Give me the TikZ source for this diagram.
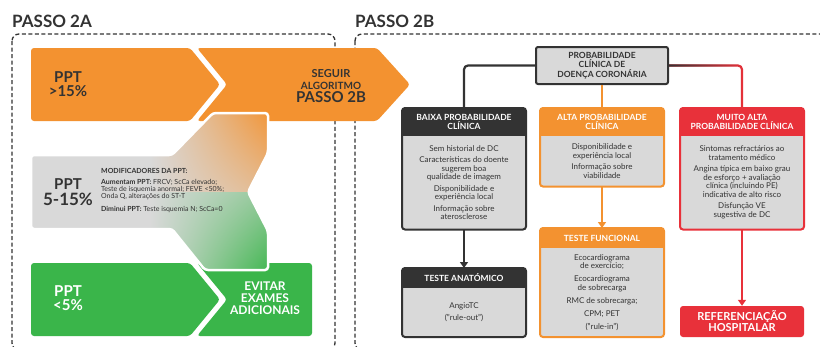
\documentclass[tikz,border=0pt]{standalone}
\usepackage{fontspec}
\setmainfont{Lato}
\usetikzlibrary{arrows.meta,fadings,shadings,positioning}
\definecolor{ink}{HTML}{333333}
\definecolor{pale}{HTML}{D9D9D9}
\definecolor{amber}{HTML}{F39230}
\definecolor{leaf}{HTML}{3AB54A}
\definecolor{alert}{HTML}{E8313A}
\newcommand{\fs}[2]{\fontsize{#1}{#2}\selectfont}
\newcommand{\midshape}{(31,155) -- (172,155) -- (213,113) -- (268,113) -- (268,153) -- (248,192) -- (268,231) -- (268,270) -- (205,270) -- (172,229) -- (31,229) -- cycle}

\begin{document}
\begin{tikzpicture}[x=1pt,y=-1pt,
	headbox/.style={minimum width=124pt, minimum height=27.5pt, inner sep=0pt, outer sep=0pt, text=white, font=\bfseries\fs{8.5}{9}, align=center},
	bodybox/.style={fill=pale, minimum width=124pt, inner sep=0pt, outer sep=0pt, text=ink, font=\fs{8}{8.5}, align=center, anchor=north},
	conn/.style={line width=2.2pt, rounded corners=4pt},
	arrowline/.style={-{Triangle[width=8pt,length=6pt]}},
	boxline/.style={line width=2pt, rounded corners=3pt},
	dashline/.style={ink, line width=1.3pt, dash pattern=on 4pt off 2.5pt, rounded corners=7pt},
	bigtxt/.style={font=\bfseries\fs{15}{14}, align=center, inner sep=0pt}]
	
	\useasboundingbox (0,0) rectangle (820,346);
	\fill[white] (0,0) rectangle (820,346);
	\clip (0,0) rectangle (820,346);
	
	\node[anchor=base west, inner sep=0pt, font=\bfseries\fs{17}{17}, text=ink] (titlea) at (12,27.5) {PASSO 2A};
	\node[anchor=base west, inner sep=0pt, font=\bfseries\fs{17}{17}, text=ink] (titleb) at (355,27.5) {PASSO 2B};
	\draw[dashline] (12,34) rectangle (335,350);
	\draw[dashline] (355,34) rectangle (840,350);
	
	\fill[amber, rounded corners=3pt] (31,48) -- (190,48) -- (220,84.5) -- (190,121) -- (31,121) -- cycle;
	\fill[amber, rounded corners=3pt] (197,48) -- (377,48) -- (410,84.5) -- (377,121) -- (197,121) -- (227,84.5) -- cycle;
	\fill[leaf, rounded corners=3pt] (31,263) -- (190,263) -- (220,299.5) -- (190,336) -- (31,336) -- cycle;
	\fill[leaf, rounded corners=3pt] (197,263) -- (312,263) -- (312,336) -- (197,336) -- (227,299.5) -- cycle;
	
	\fill[pale, rounded corners=3pt] \midshape;
	\begin{scope}
		\clip[rounded corners=3pt] \midshape;
		\shade[upper left=pale, upper right=amber, lower left=pale, lower right=pale!55!amber] (150,108) rectangle (272,192);
		\shade[upper left=pale, upper right=pale!55!leaf, lower left=pale, lower right=leaf] (150,192) rectangle (272,275);
	\end{scope}
	\draw[white, line width=2.5pt, rounded corners=3pt] \midshape;
	
	\node[bigtxt, text=ink] (ppthigh) at (68,84) {PPT\\>15\%};
	\node[align=center, inner sep=0pt, font=\bfseries, text=ink] (seguir) at (331,86) {\fs{11}{10}SEGUIR\\ALGORITMO\\[1pt]\fs{15}{14}PASSO 2B};
	\node[align=center, inner sep=0pt, font=\bfseries, text=ink] (pptmid) at (68,192) {\fs{15}{15}PPT\\[2.5pt]\fs{17}{16}5-15\%};
	\node[anchor=west, align=left, inner sep=0pt, font=\fs{7}{7}, text=ink] (mods) at (101,191) {\textbf{MODIFICADORES DA PPT:}\\[4pt]\textbf{Aumentam PPT:} FRCV; ScCa elevado;\\Teste de isquemia anormal; FEVE <50\%;\\Onda Q, alterações do ST-T\\[6pt]\textbf{Diminui PPT:} Teste isquemia N; ScCa=0};
	\node[bigtxt, text=white] (pptlow) at (68,298) {PPT\\<5\%};
	\node[align=center, inner sep=0pt, font=\bfseries\fs{12}{12}, text=white] (evitar) at (265,298) {EVITAR\\EXAMES\\ADICIONAIS};
	
	\node[fill=pale, draw=ink, line width=2pt, rounded corners=2pt, minimum width=132pt, minimum height=37pt, inner sep=0pt, align=center, font=\bfseries\fs{8.5}{9.5}, text=ink] (prob) at (602,65.5) {PROBABILIDADE\\CLÍNICA DE\\DOENÇA CORONÁRIA};
	
	\node[headbox, fill=ink] (baixah) at (464,121.75) {BAIXA PROBABILIDADE\\CLÍNICA};
	\node[headbox, fill=amber] (altah) at (602,121.75) {ALTA PROBABILIDADE\\CLÍNICA};
	\node[headbox, fill=alert] (muitoh) at (742,121.75) {MUITO ALTA\\PROBABILIDADE CLÍNICA};
	\node[bodybox, minimum height=94pt] (baixa) at (baixah.south) {Sem historial de DC\\[3pt]Características do doente\\sugerem boa\\qualidade de imagem\\[3pt]Disponibilidade e\\experiência local\\[3pt]Informação sobre\\aterosclerose};
	\node[bodybox, minimum height=51pt] (alta) at (altah.south) {Disponibilidade e\\experiência local\\[3pt]Informação sobre\\viabilidade};
	\node[bodybox, minimum height=94pt] (muito) at (muitoh.south) {Sintomas refractários ao\\tratamento médico\\[3pt]Angina típica em baixo grau\\de esforço + avaliação\\clínica (incluindo PE)\\indicativa de alto risco\\[3pt]Disfunção VE\\sugestiva de DC};
	
	\node[headbox, fill=ink, minimum height=20pt] (anath) at (464,278) {TESTE ANATÓMICO};
	\node[bodybox, minimum height=49pt] (anat) at (anath.south) {AngioTC\\[3.5pt]("rule-out")};
	\node[headbox, fill=amber, minimum height=20pt] (funch) at (602,238) {TESTE FUNCIONAL};
	\node[bodybox, minimum height=89pt] (func) at (funch.south) {Ecocardiograma\\de exercício;\\[4.5pt]Ecocardiograma\\de sobrecarga\\[4.5pt]RMC de sobrecarga;\\[4.5pt]CPM; PET\\[4.5pt]("rule-in")};
	\node[fill=alert, rounded corners=3pt, minimum width=124pt, minimum height=31pt, inner sep=0pt, align=center, font=\bfseries\fs{11}{11}, text=white] (ref) at (742,321.5) {REFERENCIAÇÃO\\HOSPITALAR};
	
	\draw[conn, ink] (prob.west) -| (baixah.north);
	\draw[conn, amber] (prob.south) -- (altah.north);
	\draw[conn, alert] (prob.east) -| (muitoh.north);
	\draw[conn, ink, path fading=east] (prob.east) -| (muitoh.north);
	\draw[conn, ink, arrowline] (baixa.south) -- (anath.north);
	\draw[conn, amber, arrowline] (alta.south) -- (funch.north);
	\draw[conn, alert, arrowline] (muito.south) -- (ref.north);
	
	\draw[boxline, ink] (baixah.north west) rectangle (baixa.south east);
	\draw[boxline, amber] (altah.north west) rectangle (alta.south east);
	\draw[boxline, alert] (muitoh.north west) rectangle (muito.south east);
	\draw[boxline, ink] (anath.north west) rectangle (anat.south east);
	\draw[boxline, amber] (funch.north west) rectangle (func.south east);

\end{tikzpicture}
\end{document}
